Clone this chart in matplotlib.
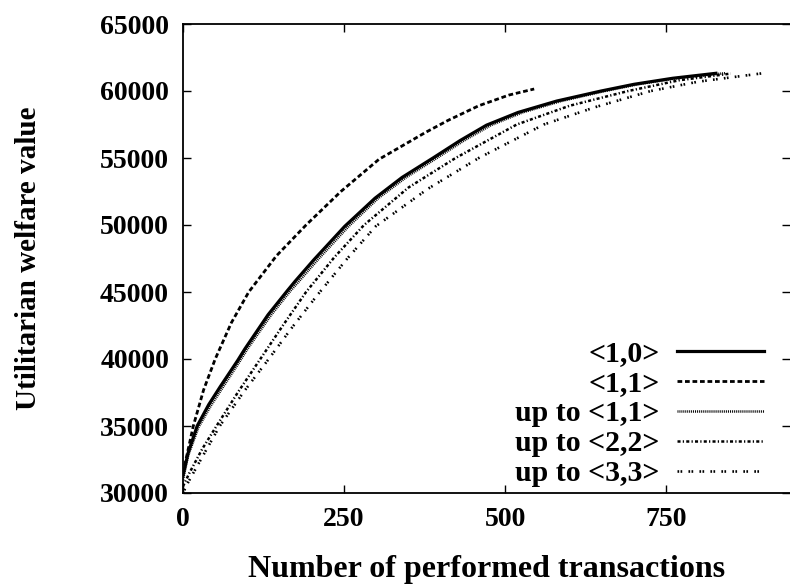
import matplotlib
matplotlib.use("Agg")
from matplotlib import pyplot as plt

# data (transactions, welfare)
x_10 = [0, 8, 22, 40, 58, 85, 96, 132, 162, 174, 203, 251, 298, 340, 388, 430, 471, 520, 580, 649, 700, 760, 827]
y_10 = [31300, 33000, 35000, 36600, 37950, 39900, 40750, 43300, 45100, 45800, 47400, 49900, 52000, 53550,
        55000, 56300, 57450, 58400, 59250, 60000, 60500, 60950, 61320]

x_11 = [0, 16, 32, 50, 75, 102, 145, 191, 245, 304, 376, 411, 459, 506, 545]
y_11 = [31500, 35000, 37700, 40000, 42700, 45000, 47700, 50000, 52500, 54900, 56900, 57800, 58900, 59700, 60150]

x_up11 = [0, 8, 24, 43, 62, 89, 100, 137, 167, 180, 209, 257, 303, 346, 394, 436, 478, 527, 587, 655, 706, 766, 842]
y_up11 = [31000, 32800, 34900, 36500, 37900, 39900, 40750, 43300, 45100, 45800, 47400, 49900, 52000, 53550,
          55000, 56300, 57450, 58400, 59250, 60000, 60500, 60950, 61330]

x_up22 = [0, 10, 30, 52, 85, 120, 155, 191, 235, 281, 350, 423, 518, 600, 691, 770, 850]
y_up22 = [30500, 31500, 33300, 35000, 37500, 40000, 42500, 45000, 47600, 50000, 52800, 55000, 57500, 58900,
          60000, 60800, 61300]

x_up33 = [0, 8, 30, 57, 95, 133, 170, 209, 255, 299, 380, 459, 560, 640, 726, 800, 899]
y_up33 = [30000, 30800, 32700, 35000, 37600, 40000, 42400, 44800, 47500, 49900, 52700, 55000, 57500, 58800,
          60000, 60700, 61320]

labels = ["<1,0>", "<1,1>", "up to <1,1>", "up to <2,2>", "up to <3,3>"]
x_ticks = [0, 250, 500, 750]
y_ticks = [30000, 35000, 40000, 45000, 50000, 55000, 60000, 65000]

plt.rcParams['font.family'] = ['Liberation Serif', 'DejaVu Serif']
plt.rcParams['font.weight'] = 'bold'
plt.rcParams['font.size'] = 20
plt.rcParams['lines.scale_dashes'] = False

fig = plt.figure(figsize=(7.9, 5.87), dpi=100)
ax = fig.add_axes([183 / 790, 94 / 587, 1 - 183 / 790, 469 / 587])

ax.plot(x_10, y_10, color='black', lw=2.3, ls='-', label=labels[0])
ax.plot(x_11, y_11, color='black', lw=2.0, ls=(0, (3.4, 2.0)), label=labels[1])
ax.plot(x_up11, y_up11, color='black', lw=1.8, ls=(0, (0.7, 0.7)), label=labels[2])
ax.plot(x_up22, y_up22, color='black', lw=1.8, ls=(0, (2.2, 1.6, 0.9, 1.6)), label=labels[3])
ax.plot(x_up33, y_up33, color='black', lw=1.9, ls=(0, (1.2, 1.0, 1.2, 4.5)), label=labels[4])

ax.set_xlim(0, 942)
ax.set_ylim(30000, 65000)
ax.set_xticks(x_ticks)
ax.set_yticks(y_ticks)
ax.tick_params(direction='in', length=6, width=1, top=True, right=True, pad=10)
ax.spines['right'].set_visible(False)
for sp in ['left', 'top', 'bottom']:
    ax.spines[sp].set_linewidth(1.3)

ax.set_xlabel("Number of performed transactions", fontsize=23, fontweight='bold', labelpad=17)
ax.set_ylabel("Utilitarian welfare value", fontsize=21, fontweight='bold', labelpad=42)

leg = ax.legend(loc='lower right', bbox_to_anchor=(0.957, 0.012), frameon=False, markerfirst=False,
                fontsize=21.5, handlelength=2.9, handletextpad=0.6, labelspacing=0.1,
                borderpad=0, borderaxespad=0)

fig.savefig("out.png", dpi=100)
